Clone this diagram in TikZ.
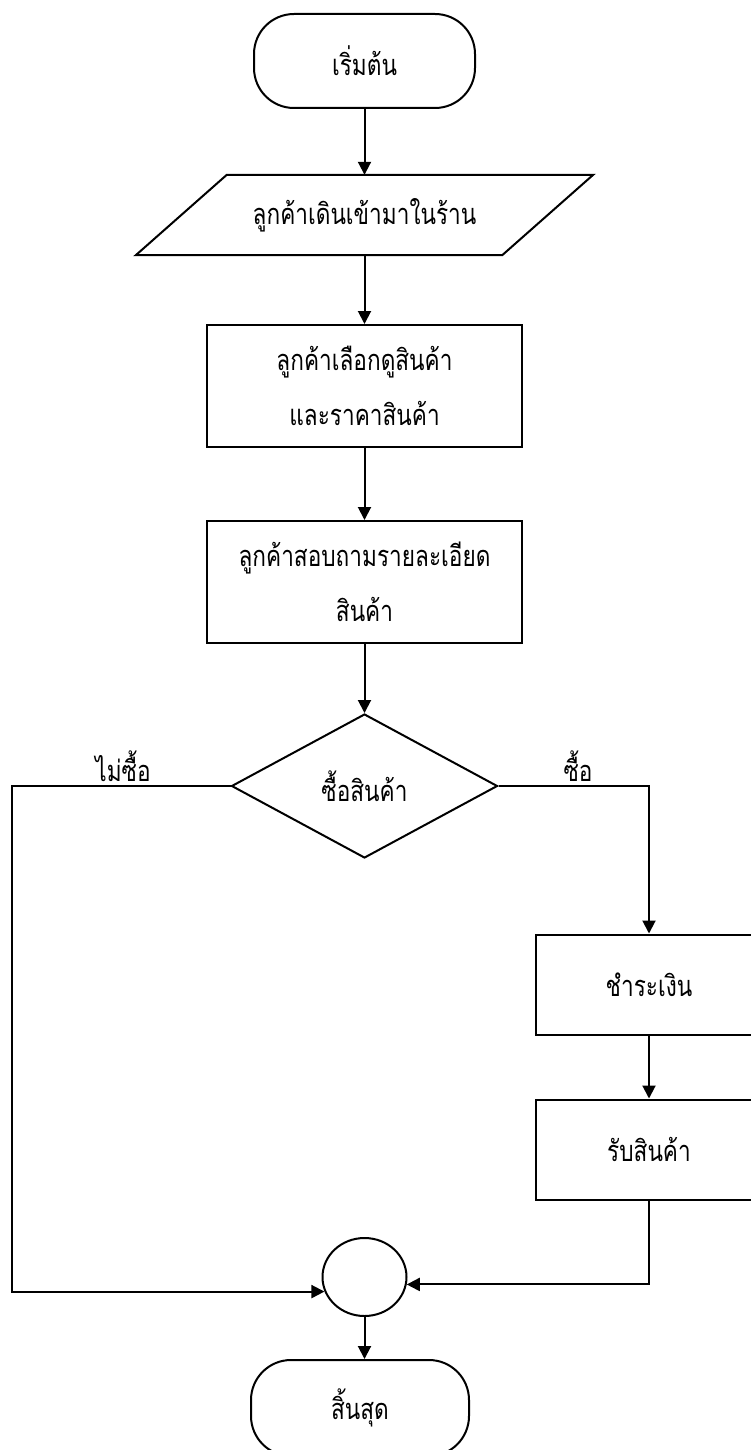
\documentclass[tikz,border=0pt]{standalone}
\usepackage{fontspec}
\setmainfont[Script=Thai,FakeStretch=0.78]{Loma}
\usetikzlibrary{arrows.meta,shapes.geometric}
\begin{document}
\begin{tikzpicture}[x=1pt,y=-1pt,
  every node/.style={font=\fontsize{29}{55}\selectfont, inner sep=0pt, align=center},
  ln/.style={line width=2pt, black},
  arr/.style={ln, -{Triangle[length=13pt,width=13pt]}},
  term/.style={draw, ln, rectangle, rounded corners=40pt, minimum width=221pt, minimum height=94pt},
  proc/.style={draw, ln, rectangle, minimum width=315pt, minimum height=122pt},
  smallproc/.style={draw, ln, rectangle, minimum width=226pt, minimum height=100pt},
  iobox/.style={rectangle, minimum width=457pt, minimum height=80pt},
  decision/.style={draw, ln, diamond, minimum width=266pt, minimum height=144pt},
  joint/.style={draw, ln, ellipse, minimum width=84pt, minimum height=78pt},
  lbl/.style={font=\fontsize{29}{32}\selectfont}
]
\useasboundingbox (0,0) rectangle (751,1450);
\clip (0,0) rectangle (751,1450);

\node[term] (s) at (364.5,61) {เริ่มต้น};
\node[iobox] (p) at (364.5,215) {ลูกค้าเดินเข้ามาในร้าน};
\draw[ln] ([xshift=91pt]p.north west) -- (p.north east) -- ([xshift=-91pt]p.south east) -- (p.south west) -- cycle;
\node[proc] (a) at (364.5,386) {ลูกค้าเลือกดูสินค้า\\และราคาสินค้า};
\node[proc] (b) at (364.5,582) {ลูกค้าสอบถามรายละเอียด\\สินค้า};
\node[decision] (d) at (364.5,786) {ซื้อสินค้า};
\node[smallproc] (c) at (649,984.5) {ชำระเงิน};
\node[smallproc] (r) at (649,1149.5) {รับสินค้า};
\node[joint] (j) at (364.5,1277) {};
\node[term, minimum width=218pt, minimum height=96pt] (e) at (360,1408) {สิ้นสุด};

\node[lbl] (no) at (123,766) {ไม่ซื้อ};
\node[lbl] (yes) at (578,766) {ซื้อ};

\draw[arr] (s.south) -- (p.north);
\draw[arr] (p.south) -- (a.north);
\draw[arr] (a.south) -- (b.north);
\draw[arr] (b.south) -- (d.north);
\draw[arr] (d.east) -| (c.north);
\draw[arr] (c.south) -- (r.north);
\draw[arr] (r.south) |- (j.350);
\draw[arr] (d.west) -- ++(-219,0) |- (j.200);
\draw[arr] (j.south) -- (j.south |- e.north);
\end{tikzpicture}
\end{document}
